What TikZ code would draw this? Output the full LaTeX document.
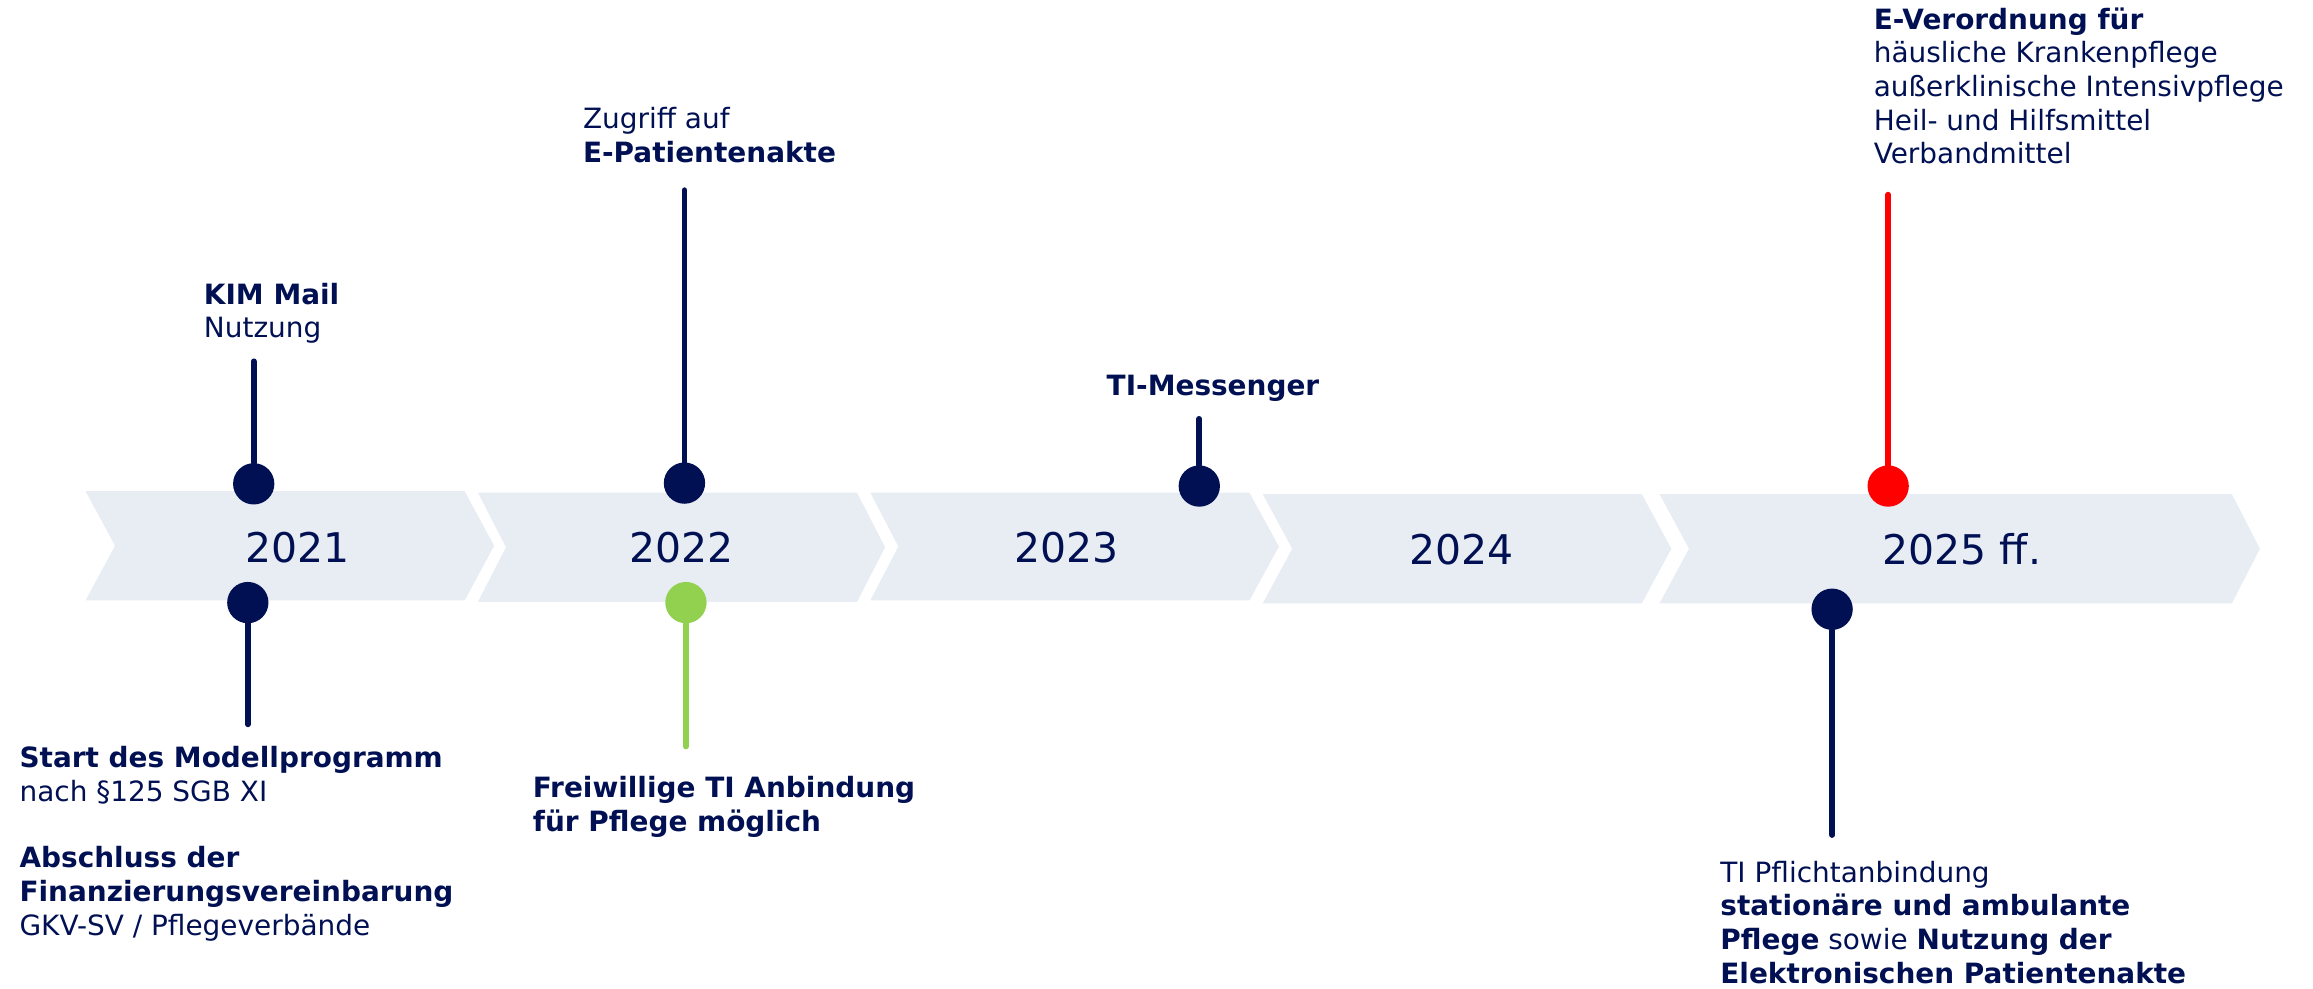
\documentclass[tikz,border=0pt]{standalone}
\usepackage{fontspec}
\setmainfont{DejaVu Sans}
\usetikzlibrary{positioning}

\definecolor{navy}{RGB}{0,16,82}
\definecolor{band}{RGB}{232,236,243}
\definecolor{leaf}{RGB}{146,208,80}
\definecolor{alert}{RGB}{255,0,0}

\begin{document}
\begin{tikzpicture}[x=0.75pt, y=-0.75pt, line cap=round, line join=round,
    year/.style={text=navy, anchor=base, inner sep=0pt, font=\fontsize{20.8}{24}\selectfont},
    note/.style={text=navy, anchor=base west, align=left, inner sep=0pt, font=\fontsize{14.2}{17.1}\selectfont},
    pindot/.style={circle, fill=navy, inner sep=0pt, minimum size=21pt},
    stem/.style={navy, line width=3pt}]

    % Frame
    \useasboundingbox (0,0) rectangle (1568,669.8);

    % Chevron band
    \fill[band] (58,333) -- (315,333) -- (335,370) -- (315,407) -- (58,407) -- (78,370) -- cycle;
    \fill[band] (324,334) -- (581,334) -- (600,371) -- (581,408) -- (324,408) -- (343,371) -- cycle;
    \fill[band] (590,334) -- (847,334) -- (867,370.5) -- (847,407) -- (590,407) -- (609,370.5) -- cycle;
    \fill[band] (856,335) -- (1113,335) -- (1133,372) -- (1113,409) -- (856,409) -- (876,372) -- cycle;
    \fill[band] (1125,335) -- (1513,335) -- (1532,372) -- (1513,409) -- (1125,409) -- (1145,372) -- cycle;

    % Years
    \node[year] (y21) at (202,381) {2021};
    \node[year] (y22) at (462,381) {2022};
    \node[year] (y23) at (723,381) {2023};
    \node[year] (y24) at (991,383) {2024};
    \node[year] (y25) at (1330,383) {2025 ff.};

    % Pins above the band (text nodes placed by their last line)
    \node[pindot] (kim) at (172,328) {};
    \coordinate (kimtop) at (172,245);
    \draw[stem] (kim) -- (kimtop);
    \node[note] (kimtxt) at (138,229) {\textbf{KIM Mail}\\Nutzung};

    \node[pindot] (epa) at (464,327.5) {};
    \coordinate (epatop) at (464,129);
    \draw[stem] (epa) -- (epatop);
    \node[note] (epatxt) at (395,110) {Zugriff auf\\\textbf{E-Patientenakte}};

    \node[pindot] (msg) at (813,329.5) {};
    \coordinate (msgtop) at (813,284);
    \draw[stem] (msg) -- (msgtop);
    \node[note] (msgtxt) at (750,268) {\textbf{TI-Messenger}};

    \node[pindot, fill=alert] (verord) at (1280,329.5) {};
    \coordinate (verordtop) at (1280,132);
    \draw[stem, alert] (verord) -- (verordtop);
    \node[note] (verordtxt) at (1270,111) {\textbf{E-Verordnung für}\\häusliche Krankenpflege\\außerklinische Intensivpflege\\Heil- und Hilfsmittel\\Verbandmittel};

    % Pins below the band
    \node[pindot] (start) at (168,408.5) {};
    \coordinate (startbot) at (168,491);
    \draw[stem] (start) -- (startbot);
    \node[note] (starttxt) at (13,634) {\textbf{Start des Modellprogramm}\\nach §125 SGB XI\\[16.7pt]\textbf{Abschluss der}\\\textbf{Finanzierungsvereinbarung}\\GKV-SV / Pflegeverbände};

    \node[pindot, fill=leaf] (frei) at (465,408.5) {};
    \coordinate (freibot) at (465,506);
    \draw[stem, leaf] (frei) -- (freibot);
    \node[note] (freitxt) at (361,563.5) {\textbf{Freiwillige TI Anbindung}\\\textbf{für Pflege möglich}};

    \node[pindot] (pflicht) at (1242,413) {};
    \coordinate (pflichtbot) at (1242,566);
    \draw[stem] (pflicht) -- (pflichtbot);
    \node[note] (pflichttxt) at (1166,666.5) {TI Pflichtanbindung\\\textbf{stationäre und ambulante}\\\textbf{Pflege} sowie \textbf{Nutzung der}\\\textbf{Elektronischen Patientenakte}};
\end{tikzpicture}
\end{document}
